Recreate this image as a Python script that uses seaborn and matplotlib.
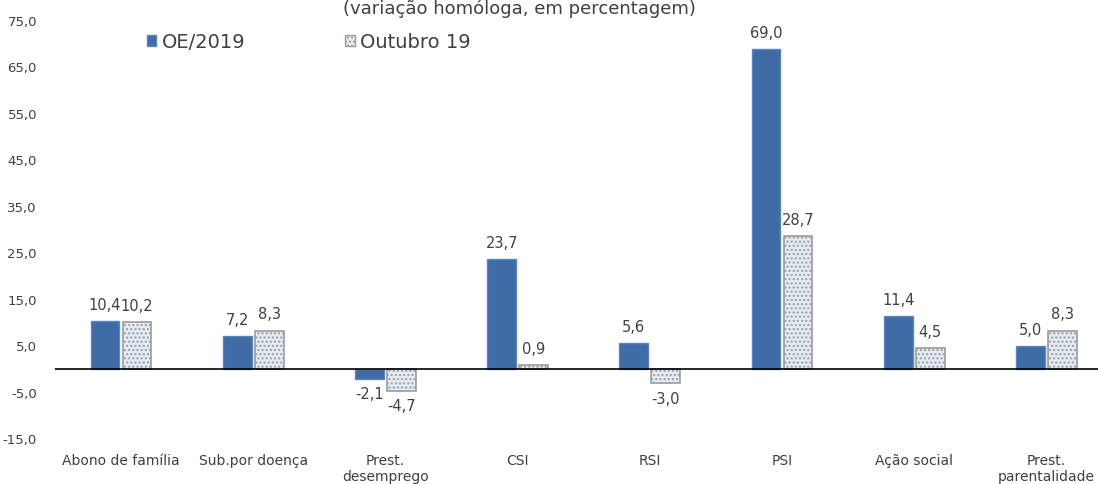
import pandas as pd
import numpy as np
import matplotlib.pyplot as plt
from matplotlib.patches import Patch
import seaborn as sns

categorias = ['Abono de família', 'Sub.por doença', 'Prest.\ndesemprego', 'CSI',
              'RSI', 'PSI', 'Ação social', 'Prest.\nparentalidade']
oe_2019 = [10.4, 7.2, -2.1, 23.7, 5.6, 69.0, 11.4, 5.0]
outubro_19 = [10.2, 8.3, -4.7, 0.9, -3.0, 28.7, 4.5, 8.3]
series = ['OE/2019', 'Outubro 19']
y_ticks = [-15, -5, 5, 15, 25, 35, 45, 55, 65, 75]

df = pd.DataFrame({
    'categoria': categorias * 2,
    'valor': oe_2019 + outubro_19,
    'serie': [series[0]] * len(categorias) + [series[1]] * len(categorias),
})

sns.set_style('white')
plt.rcParams['font.family'] = ['DejaVu Sans']
plt.rcParams['hatch.color'] = '#A9C0DE'
txt = '#404040'

W, H = 1098, 484
fig = plt.figure(figsize=(W / 100, H / 100), dpi=100)
left, right, top, bottom = 55, 1098, 21, 439
ax = fig.add_axes([left / W, 1 - bottom / H, (right - left) / W, (bottom - top) / H])

cores = {'OE/2019': '#3F6BA6', 'Outubro 19': '#E3EBF5'}
sns.barplot(data=df, x='categoria', y='valor', hue='serie', palette=cores,
            width=0.484, gap=0.1, ax=ax, legend=False, saturation=1)

for i, cont in enumerate(ax.containers):
    for bar in cont:
        if i == 0:
            bar.set_edgecolor('#5A86C0')
            bar.set_linewidth(1.0)
        else:
            bar.set_edgecolor('#9C9C9C')
            bar.set_linewidth(1.2)
            bar.set_hatch('....')
    lbls = [f'{v:.1f}'.replace('.', ',') for v in cont.datavalues]
    ax.bar_label(cont, labels=lbls, padding=6, fontsize=10.5, color=txt)

ax.axhline(0, color='black', lw=1.2, zorder=5)
ax.set_ylim(-15, 75)
ax.set_xlim(-0.5, 7.5 - (1112.5 - 1098) / 132.2)
ax.set_yticks(y_ticks)
ax.set_yticklabels([f'{v:.1f}'.replace('.', ',') for v in y_ticks], fontsize=9.5, color=txt)
ax.tick_params(axis='y', length=0, pad=13)
ax.tick_params(axis='x', length=0, pad=11, labelsize=10, labelcolor=txt)
ax.set_xlabel('')
ax.set_ylabel('')
sns.despine(ax=ax, left=True, bottom=True)

handles = [Patch(facecolor=cores[s], edgecolor='#5A86C0' if s == series[0] else '#9C9C9C',
                 hatch='' if s == series[0] else '....') for s in series]
fig.legend(handles, series, loc='center left', bbox_to_anchor=(129 / W, 1 - 42 / H),
           ncol=2, frameon=False, fontsize=14, handlelength=0.5, handleheight=0.5,
           handletextpad=0.3, columnspacing=5.1, labelcolor=txt)

fig.text(519 / W, 1 - 14 / H, '(variação homóloga, em percentagem)', ha='center',
         va='baseline', fontsize=13, color=txt)

fig.savefig('out.png', dpi=100)
